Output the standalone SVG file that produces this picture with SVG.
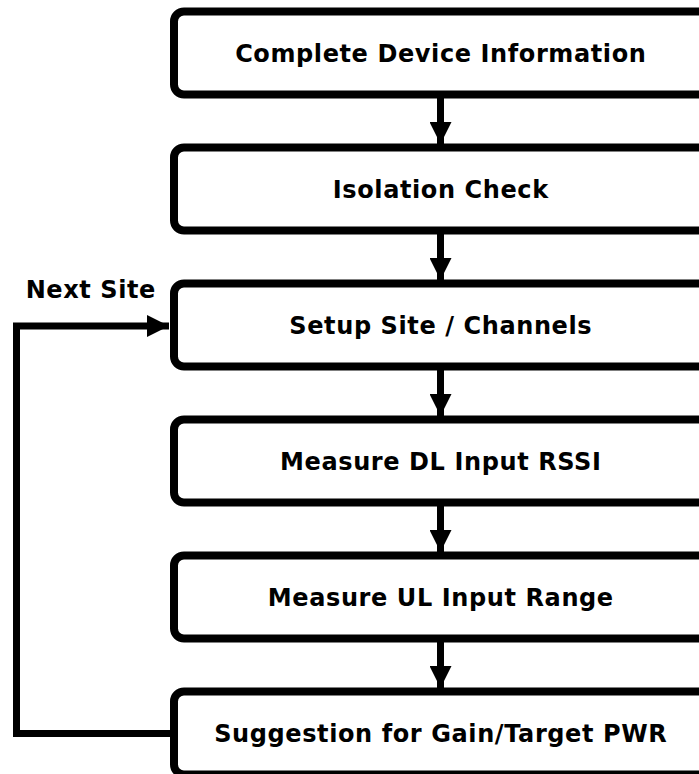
<svg xmlns="http://www.w3.org/2000/svg" width="699" height="774" viewBox="0 0 699 774">
<defs>
<style>
.box{fill:#fff;stroke:#000;stroke-width:8}
.lbl{font-family:"DejaVu Sans",Verdana,sans-serif;font-weight:bold;font-size:24px;letter-spacing:0.6px;fill:#000;text-anchor:middle}
.ln{fill:none;stroke:#000;stroke-width:7}
</style>
<marker id="ah" markerWidth="22" markerHeight="22" refX="22" refY="11" orient="auto" markerUnits="userSpaceOnUse">
<path d="M0,0 L22,11 L0,22 Z" fill="#000"/>
</marker>
</defs>
<rect width="699" height="774" fill="#fff"/>
<g id="connectors">
<line class="ln" x1="440.5" y1="98" x2="440.5" y2="144" marker-end="url(#ah)"/>
<line class="ln" x1="440.5" y1="234" x2="440.5" y2="280" marker-end="url(#ah)"/>
<line class="ln" x1="440.5" y1="370" x2="440.5" y2="416" marker-end="url(#ah)"/>
<line class="ln" x1="440.5" y1="506" x2="440.5" y2="552" marker-end="url(#ah)"/>
<line class="ln" x1="440.5" y1="642" x2="440.5" y2="688" marker-end="url(#ah)"/>
<polyline class="ln" points="170,733.5 16.5,733.5 16.5,326 169,326" marker-end="url(#ah)"/>
<text class="lbl" x="90.8" y="298">Next Site</text>
</g>
<g id="n1"><rect class="box" x="174" y="11.5" width="534" height="83" rx="10"/><text class="lbl" x="440.8" y="62">Complete Device Information</text></g>
<g id="n2"><rect class="box" x="174" y="147.5" width="534" height="83" rx="10"/><text class="lbl" x="440.8" y="198">Isolation Check</text></g>
<g id="n3"><rect class="box" x="174" y="283.5" width="534" height="83" rx="10"/><text class="lbl" x="440.8" y="334">Setup Site / Channels</text></g>
<g id="n4"><rect class="box" x="174" y="419.5" width="534" height="83" rx="10"/><text class="lbl" x="440.8" y="470">Measure DL Input RSSI</text></g>
<g id="n5"><rect class="box" x="174" y="555.5" width="534" height="83" rx="10"/><text class="lbl" x="440.8" y="606">Measure UL Input Range</text></g>
<g id="n6"><rect class="box" x="174" y="691.5" width="534" height="83" rx="10"/><text class="lbl" x="440.8" y="742">Suggestion for Gain/Target PWR</text></g>
</svg>
